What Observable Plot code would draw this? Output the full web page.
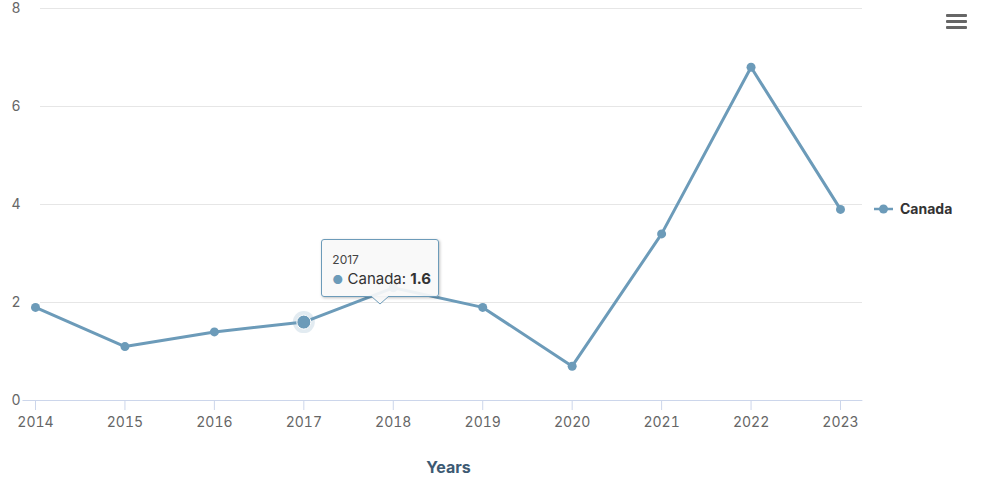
<!DOCTYPE html>
<html><head><meta charset="utf-8">
<script src="https://cdn.jsdelivr.net/npm/d3@7"></script>
<script src="https://cdn.jsdelivr.net/npm/@observablehq/plot@0.6"></script>
<style>
html,body{margin:0;padding:0;background:#fff;}
#wrap{position:relative;width:981px;height:492px;font-family:Inter,"DejaVu Sans",sans-serif;overflow:hidden;}
#wrap svg{position:absolute;left:0;top:0;}
.legend{position:absolute;display:flex;align-items:center;font-weight:700;font-size:14px;color:#333;}
.menu{position:absolute;left:946px;width:21px;}
.menu div{height:3px;background:#666;margin-bottom:3px;border-radius:1px;}
.xtitle{position:absolute;font-weight:700;font-size:16px;color:#3d5a73;transform:translateX(-50%);}
.tip{position:absolute;background:rgba(248,248,248,0.92);border:1px solid #6c9bb9;border-radius:3px;box-shadow:1px 1px 3px rgba(0,0,0,0.25);padding:12px 10px 0 10px;box-sizing:border-box;}
.tip .h{font-size:12px;color:#444;}
.tip .r{font-size:15px;color:#333;margin-top:2px;white-space:nowrap;}
</style></head>
<body><div id="wrap"></div>
<script>
const years = [2014, 2015, 2016, 2017, 2018, 2019, 2020, 2021, 2022, 2023];
const canada = [1.9, 1.1, 1.4, 1.6, 2.3, 1.9, 0.7, 3.4, 6.8, 3.9];
const yTicks = [0, 2, 4, 6, 8];
const seriesName = "Canada";
const xTitle = "Years";
const hoverYear = 2017;

const color = "#6c9bb9";
const data = years.map((y, i) => ({year: y, value: canada[i]}));
const hover = data.filter(d => d.year === hoverYear);

const chart = Plot.plot({
  width: 981, height: 492,
  marginLeft: 40, marginRight: 119, marginTop: 8, marginBottom: 92,
  style: {fontFamily: "Inter, 'DejaVu Sans', sans-serif", fontSize: "14px", color: "#666", background: "transparent"},
  x: {domain: [2014, 2023], range: [35, 840], ticks: years, tickFormat: d => String(d), label: null},
  y: {domain: [0, 8], ticks: yTicks, label: null},
  marks: [
    Plot.ruleY(yTicks.filter(t => t > 0), {stroke: "#e6e6e6", strokeWidth: 1}),
    Plot.ruleY([0], {stroke: "#ccd6eb", strokeWidth: 1, x1: 2013.86, x2: 2023.25}),
    Plot.axisX({ticks: years, tickSize: 10, tickPadding: 7, stroke: "#ccd6eb", fill: "#666", fontSize: 14, tickFormat: d => String(d), label: null}),
    Plot.axisY({ticks: yTicks, tickSize: 0, tickPadding: 20, fill: "#666", fontSize: 14, label: null}),
    Plot.line(data, {x: "year", y: "value", stroke: color, strokeWidth: 3}),
    Plot.dot(hover, {x: "year", y: "value", r: 11, fill: color, fillOpacity: 0.2, stroke: "none"}),
    Plot.dot(data, {x: "year", y: "value", r: 4.5, fill: color, stroke: "none"}),
    Plot.dot(hover, {x: "year", y: "value", r: 7, fill: color, stroke: "#fff", strokeWidth: 1})
  ]
});
const wrap = document.getElementById("wrap");
wrap.appendChild(chart);

const sx = chart.scale("x"), sy = chart.scale("y");

// legend
const leg = document.createElement("div");
leg.className = "legend";
leg.style.left = "873px";
leg.style.top = (sy.apply(4) - 4) + "px";
leg.innerHTML = `<svg width="22" height="16" style="position:static;margin-right:5px"><line x1="1" x2="20" y1="8" y2="8" stroke="${color}" stroke-width="2.5"/><circle cx="10.5" cy="8" r="4.5" fill="${color}"/></svg>${seriesName}`;
wrap.appendChild(leg);

// menu icon
const menu = document.createElement("div");
menu.className = "menu";
menu.style.top = "14px";
menu.innerHTML = "<div></div><div></div><div></div>";
wrap.appendChild(menu);

// x title
const xt = document.createElement("div");
xt.className = "xtitle";
xt.textContent = xTitle;
xt.style.left = ((sx.apply(2014) + 862) / 2) + "px";
xt.style.top = "457px";
wrap.appendChild(xt);

// tooltip
const hv = hover[0];
const tipLeft = sx.apply(hv.year) + 18;
const tipTop = sy.apply(hv.value) - 83;
const tip = document.createElement("div");
tip.className = "tip";
tip.style.left = tipLeft + "px";
tip.style.top = tipTop + "px";
tip.style.width = "118px";
tip.style.height = "58px";
tip.innerHTML = `<div class="h">${hv.year}</div><div class="r"><span style="color:${color};font-size:12px">●</span> ${seriesName}: <b>${hv.value}</b></div>`;
wrap.appendChild(tip);
const ptr = document.createElementNS("http://www.w3.org/2000/svg", "svg");
ptr.setAttribute("width", 20); ptr.setAttribute("height", 10);
ptr.style.left = (tipLeft + 59 - 10) + "px";
ptr.style.top = (tipTop + 57) + "px";
ptr.innerHTML = `<path d="M1 0 L10 8 L19 0" fill="rgba(248,248,248,0.95)" stroke="${color}" stroke-width="1"/>`;
wrap.appendChild(ptr);
</script>
</body></html>
